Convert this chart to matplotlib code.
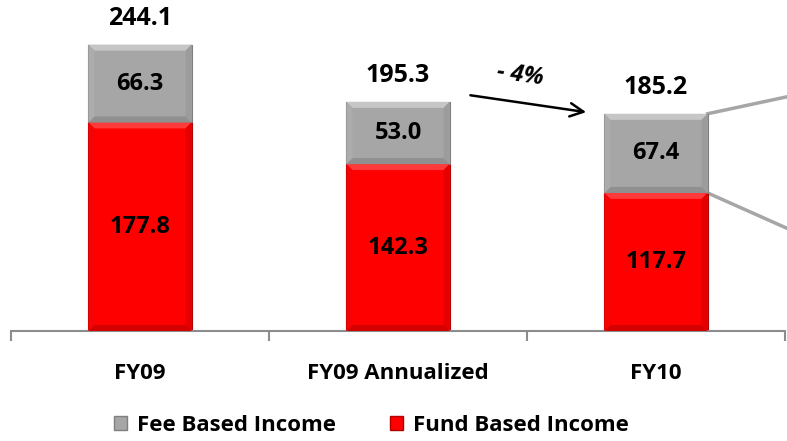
import matplotlib
matplotlib.use('Agg')
import matplotlib.pyplot as plt
from matplotlib.patches import Polygon, Patch

categories = ['FY09', 'FY09 Annualized', 'FY10']
fund_based = [177.8, 142.3, 117.7]
fee_based = [66.3, 53.0, 67.4]
totals = [244.1, 195.3, 185.2]
growth_label = '- 4%'

plt.rcParams['font.family'] = ['Open Sans', 'DejaVu Sans']
plt.rcParams['font.weight'] = 'bold'

fig = plt.figure(figsize=(7.87, 4.41), dpi=100)
ax = fig.add_axes([11 / 787, 110 / 441, 774 / 787, 305 / 441])
ax.set_xlim(-0.5, 2.5)
ax.set_ylim(0, 260)

w = 0.4
x = list(range(len(categories)))
red_bars = ax.bar(x, fund_based, w, color='#ff0000', edgecolor='#b00000', linewidth=0.8, zorder=2)
gray_bars = ax.bar(x, fee_based, w, bottom=fund_based, color='#a6a6a6', edgecolor='#7f7f7f',
                   linewidth=0.8, zorder=2)


def bevel(patch, light, dark, side_l, side_d, px=6):
    # fake the Excel bevel with four trapezoids on the bar edges
    x0, y0 = patch.get_x(), patch.get_y()
    x1, y1 = x0 + patch.get_width(), y0 + patch.get_height()
    p0 = ax.transData.transform((0, 0))
    p1 = ax.transData.transform((1, 1))
    dx = px / (p1[0] - p0[0])
    dy = px / (p1[1] - p0[1])
    faces = [
        ([(x0, y1), (x1, y1), (x1 - dx, y1 - dy), (x0 + dx, y1 - dy)], light),
        ([(x0, y0), (x1, y0), (x1 - dx, y0 + dy), (x0 + dx, y0 + dy)], dark),
        ([(x0, y0), (x0, y1), (x0 + dx, y1 - dy), (x0 + dx, y0 + dy)], side_l),
        ([(x1, y0), (x1, y1), (x1 - dx, y1 - dy), (x1 - dx, y0 + dy)], side_d),
    ]
    for pts, c in faces:
        ax.add_patch(Polygon(pts, closed=True, facecolor=c, edgecolor='none', zorder=3))


for b in red_bars:
    bevel(b, '#ff3a3a', '#d40000', '#f40404', '#e40000')
for b in gray_bars:
    bevel(b, '#c6c6c6', '#909090', '#acacac', '#9c9c9c')

fs = 16
vs = 17
for i in x:
    ax.text(i, fund_based[i] / 2, f'{fund_based[i]:.1f}', ha='center', va='center',
            fontsize=vs, fontweight='bold', zorder=4)
    ax.text(i, fund_based[i] + fee_based[i] / 2, f'{fee_based[i]:.1f}', ha='center', va='center',
            fontsize=vs, fontweight='bold', zorder=4)
    ax.annotate(f'{totals[i]:.1f}', (i, totals[i]), xytext=(0, 10), textcoords='offset points',
                ha='center', va='bottom', fontsize=vs + 1, fontweight='bold')

# growth arrow between FY09 Annualized and FY10
ax.annotate('', xy=(2 - w / 2 - 0.06, totals[2] + 1), xytext=(1 + w / 2 + 0.07, totals[1] + 6),
            arrowprops=dict(arrowstyle='->', color='black', lw=1.8, mutation_scale=24))
ax.text(1.475, 218, growth_label, ha='center', va='center', fontsize=vs, fontweight='bold',
        style='italic', rotation=-8)

# callout lines leaving the FY10 bar
xr = 2 + w / 2
ax.plot([xr, 2.6], [totals[2], 204], color='#a6a6a6', lw=2.5, clip_on=False, zorder=1)
ax.plot([xr, 2.6], [fund_based[2], 78.5], color='#a6a6a6', lw=2.5, clip_on=False, zorder=1)

for s in ['left', 'right', 'top']:
    ax.spines[s].set_visible(False)
ax.spines['bottom'].set_color('#8c8c8c')
ax.spines['bottom'].set_linewidth(1.5)
ax.set_yticks([])
ax.set_xticks([-0.5, 0.5, 1.5, 2.5])
ax.set_xticklabels([])
ax.tick_params(axis='x', which='major', length=7, width=1.5, color='#8c8c8c')
ax.set_xticks(x, minor=True)
ax.set_xticklabels(categories, minor=True, fontsize=fs, fontweight='bold')
ax.tick_params(axis='x', which='minor', length=0, pad=23)

handles = [Patch(facecolor='#a6a6a6', edgecolor='#7f7f7f', label='Fee Based Income'),
           Patch(facecolor='#ff0000', edgecolor='#b00000', label='Fund Based Income')]
fig.legend(handles=handles, loc='center', bbox_to_anchor=(0.472, 0.036), ncol=2, frameon=False,
           handlelength=0.6, handleheight=0.6, handletextpad=0.45, columnspacing=2.4,
           prop={'size': fs, 'weight': 'bold'})

fig.savefig('out.png', dpi=100)
